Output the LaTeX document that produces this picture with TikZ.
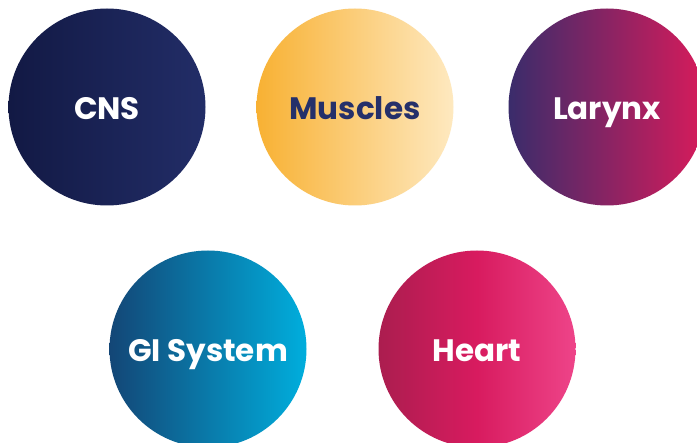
\documentclass[tikz,border=0pt]{standalone}
\usepackage{fontspec}
\setmainfont{Poppins}
\usepackage{xcolor}
\definecolor{Navy}{HTML}{121944}
\definecolor{NavyLight}{HTML}{222D67}
\definecolor{Amber}{HTML}{F8B133}
\definecolor{Cream}{HTML}{FEE9C0}
\definecolor{Ink}{HTML}{25306A}
\definecolor{Plum}{HTML}{3A2C6B}
\definecolor{Crimson}{HTML}{D81B5B}
\definecolor{Ocean}{HTML}{134676}
\definecolor{Sky}{HTML}{00AEDD}
\definecolor{Berry}{HTML}{AB1D4F}
\definecolor{Rose}{HTML}{D81B5F}
\definecolor{Pink}{HTML}{EE4489}
\tikzset{
 organ/.style={circle, minimum size=197pt, inner sep=0pt, text=white, text height=26pt, text depth=0pt, font=\fontsize{31}{34}\selectfont\bfseries},
 cns/.style={organ, left color=Navy, right color=NavyLight},
 muscle/.style={organ, left color=Amber, right color=Cream, text=Ink},
 larynx/.style={organ, left color=Plum, right color=Crimson},
 gi/.style={organ, left color=Ocean, right color=Sky},
 heart/.style={organ, left color=Berry, right color=Pink, middle color=Rose}
}
\begin{document}
\begin{tikzpicture}[x=1pt,y=-1pt]
\clip (0,0) rectangle (697,443);
\fill[white] (0,0) rectangle (697,443);
\node[cns] (cns) at (107,107) {CNS};
\node[muscle] (muscles) at (355,107) {Muscles};
\node[larynx] (larynx) at (607,107) {Larynx};
\node[gi] (gisystem) at (208,349) {GI System};
\node[heart] (heart) at (477,349) {Heart};
\end{tikzpicture}
\end{document}
